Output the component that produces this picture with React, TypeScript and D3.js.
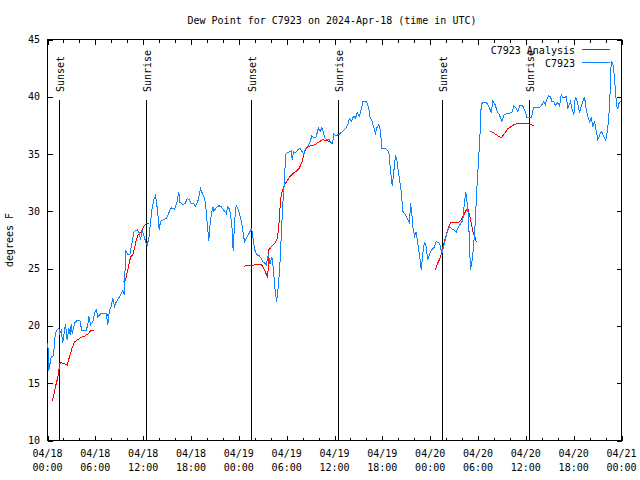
import React, { useEffect } from "react";
import * as d3 from "d3";

const W = 640;
const H = 480;

const titleText = "Dew Point for C7923 on 2024-Apr-18 (time in UTC)";
const yAxisLabel = "degrees F";
const yTickValues = [10, 15, 20, 25, 30, 35, 40, 45];
const xMajorHours = [0, 6, 12, 18, 24, 30, 36, 42, 48, 54, 60, 66, 72];
const xTickDates = ["04/18", "04/18", "04/18", "04/18", "04/19", "04/19", "04/19", "04/19", "04/20", "04/20", "04/20", "04/20", "04/21"];
const xTickTimes = ["00:00", "06:00", "12:00", "18:00", "00:00", "06:00", "12:00", "18:00", "00:00", "06:00", "12:00", "18:00", "00:00"];
const sunEventHours = [1.42, 12.33, 25.47, 36.42, 49.47, 60.38];
const sunEventLabels = ["Sunset", "Sunrise", "Sunset", "Sunrise", "Sunset", "Sunrise"];
const seriesNames = ["C7923 Analysis", "C7923"];

// Hours since 2024-04-18 00:00 UTC, dew point in °F
const blueHours = [
  0.04, 0.16, 0.46, 0.75, 0.97, 1.17, 1.42, 1.54, 1.72, 1.92, 2.04, 2.26, 2.47, 2.67, 2.85, 2.97, 3.1, 3.26, 3.47, 3.8,
  4.05, 4.3, 4.85, 5.06, 5.18, 5.39, 5.68, 5.9, 6.11, 6.31, 6.74, 7.36, 7.56, 7.78, 7.99, 8.19, 8.4, 8.62, 8.91, 9.25,
  9.45, 9.66, 9.78, 10.07, 10.32, 10.57, 10.83, 11.25, 11.54, 11.67, 11.88, 12.08, 12.38, 12.51, 12.71, 12.92, 13.13, 13.33, 13.55, 13.67,
  13.84, 14.01, 14.17, 14.46, 14.89, 15.18, 15.3, 15.52, 15.93, 16.22, 16.47, 16.6, 16.97, 17.27, 17.52, 17.81, 18.03, 18.35, 18.53, 18.85,
  19.19, 19.41, 19.61, 19.82, 20.03, 20.23, 20.36, 20.57, 20.74, 20.86, 21.16, 21.49, 21.79, 22.12, 22.42, 22.62, 22.83, 23.04, 23.17, 23.29,
  23.42, 23.55, 23.67, 23.87, 24.12, 24.37, 24.55, 24.71, 24.93, 25.13, 25.38, 25.55, 25.68, 25.84, 26.05, 26.31, 26.59, 26.81, 27.01, 27.22,
  27.43, 27.72, 27.89, 28.14, 28.35, 28.51, 28.73, 28.94, 29.14, 29.32, 29.52, 29.73, 29.86, 30.02, 30.36, 30.57, 30.7, 30.86, 31.11, 31.4,
  31.7, 31.95, 32.15, 32.36, 32.65, 32.95, 33.15, 33.4, 33.7, 33.99, 34.21, 34.41, 34.62, 34.78, 35.09, 35.37, 35.59, 35.79, 35.91, 36.21,
  36.63, 37.04, 37.47, 37.67, 37.88, 38.13, 38.38, 38.64, 38.85, 39.14, 39.35, 39.55, 40.05, 40.3, 40.48, 40.73, 40.93, 41.14, 41.31, 41.56,
  41.77, 41.93, 42.4, 42.81, 43.11, 43.24, 43.4, 43.65, 43.82, 44.07, 44.37, 44.57, 44.91, 45.2, 45.41, 45.53, 45.7, 45.82, 46.04, 46.25,
  46.45, 46.66, 46.88, 47.08, 47.29, 47.5, 47.7, 47.92, 48.13, 48.54, 48.76, 49.17, 49.3, 49.46, 49.68, 49.89, 50.14, 50.43, 50.64, 50.97,
  51.27, 51.6, 51.9, 52.1, 52.31, 52.47, 52.65, 52.81, 52.94, 53.06, 53.22, 53.44, 53.65, 53.85, 54.07, 54.28, 54.4, 54.61, 55.03, 55.24,
  55.45, 55.66, 55.86, 56.16, 56.42, 56.7, 56.99, 57.24, 57.54, 58.08, 58.29, 58.49, 58.79, 58.99, 59.21, 59.62, 59.92, 60.17, 60.46, 60.68,
  61.0, 61.72, 61.93, 62.26, 62.43, 62.63, 62.85, 63.1, 63.26, 63.51, 63.69, 63.94, 64.23, 64.44, 64.64, 65.07, 65.27, 65.61, 65.77, 66.02,
  66.2, 66.45, 66.74, 66.95, 67.15, 67.36, 67.58, 67.78, 67.99, 68.2, 68.4, 68.61, 68.83, 69.03, 69.28, 69.53, 69.78, 70.03, 70.28, 70.49,
  70.62, 70.71, 70.91, 71.04, 71.22, 71.38, 71.54, 71.72, 71.88,
];
const blueValues = [
  18.55, 16.1, 17.3, 17.4, 19.3, 19.6, 19.8, 19.3, 19.6, 18.5, 19.2, 20.15, 18.75, 19.8, 19.2, 20.15, 19.3, 19.8, 20.35, 20.5,
  20.5, 19.6, 19.6, 20.1, 20.9, 20.1, 20.35, 21.1, 21.4, 20.8, 21.1, 21.1, 20.1, 21.4, 21.7, 22.4, 21.7, 22.1, 22.4, 22.8,
  23.1, 22.7, 26.6, 26.2, 26.2, 27.1, 28.2, 28.4, 28.1, 27.5, 28.4, 27.9, 27.2, 27.1, 27.65, 29.0, 30.3, 31.0, 31.4, 30.85,
  29.8, 28.4, 29.1, 29.25, 29.4, 29.8, 30.0, 30.3, 30.2, 30.7, 31.7, 30.8, 30.6, 30.7, 31.1, 31.0, 30.7, 30.7, 30.4, 30.85,
  32.0, 31.6, 31.3, 30.7, 29.0, 27.4, 28.7, 29.8, 30.4, 30.0, 30.3, 30.5, 30.4, 30.1, 29.8, 30.4, 30.2, 29.25, 28.4, 26.5,
  28.4, 29.8, 30.5, 30.3, 29.7, 29.0, 28.1, 27.35, 27.65, 27.9, 28.2, 28.5, 28.2, 27.35, 26.5, 26.2, 26.1, 25.9, 25.6, 25.5,
  25.3, 26.3, 25.4, 26.0, 24.9, 23.4, 22.1, 23.4, 25.2, 27.8, 30.7, 32.75, 34.9, 35.1, 35.2, 35.3, 34.5, 35.2, 35.1, 35.4,
  35.5, 35.2, 35.0, 35.5, 35.7, 36.1, 36.6, 36.4, 36.5, 37.3, 37.0, 37.3, 36.9, 36.4, 36.25, 36.25, 35.9, 36.1, 36.75, 36.6,
  36.75, 37.0, 37.3, 37.6, 38.1, 37.85, 38.3, 38.15, 38.6, 38.3, 38.9, 39.55, 39.55, 39.0, 38.15, 37.85, 37.3, 36.8, 37.3, 37.6,
  37.0, 35.5, 35.5, 35.2, 33.0, 32.25, 33.2, 34.9, 34.5, 33.2, 31.7, 30.0, 29.7, 29.25, 29.0, 30.7, 29.8, 28.7, 27.8, 28.2,
  27.2, 26.2, 24.9, 26.3, 27.35, 26.9, 25.75, 26.3, 26.6, 26.9, 27.35, 27.2, 26.9, 26.3, 26.9, 27.5, 28.2, 28.7, 28.5, 28.4,
  28.2, 28.7, 29.0, 29.25, 30.85, 31.7, 30.7, 29.5, 26.9, 24.9, 25.5, 26.9, 29.0, 31.9, 34.5, 37.1, 39.3, 39.5, 39.5, 39.3,
  39.0, 38.6, 39.6, 39.3, 38.7, 38.4, 37.85, 38.4, 38.5, 38.6, 38.7, 39.2, 39.0, 38.7, 39.2, 39.2, 38.7, 38.15, 38.15, 38.15,
  39.1, 39.1, 39.2, 39.6, 39.3, 39.75, 40.1, 40.0, 39.6, 39.6, 39.2, 39.5, 39.2, 40.2, 39.9, 40.0, 39.0, 39.6, 39.0, 38.4,
  40.0, 39.6, 38.6, 39.2, 39.6, 40.0, 38.9, 38.3, 37.85, 38.15, 37.4, 37.85, 37.0, 36.25, 36.7, 37.0, 36.5, 36.2, 37.3, 39.0,
  41.35, 43.1, 42.95, 42.2, 40.8, 39.2, 39.0, 39.5, 39.6,
];

// null values mark gaps in the analysis series
const redHours = [
  0.54, 0.75, 1.0, 1.29, 1.42, 1.51, 1.72, 2.13, 2.47, 2.76, 3.05, 3.39, 3.8, 4.23, 4.64, 5.06, 5.48, 5.77,
  6.5,
  7.36, 7.62,
  8.5,
  9.5, 9.78, 10.0, 10.2, 10.41, 10.7, 10.91, 11.13, 11.33, 11.75, 12.17, 12.38, 12.71,
  18.0,
  24.62, 24.84, 25.34, 25.63, 26.18, 26.81, 27.22, 27.64, 27.72, 28.06, 28.48, 28.77, 28.98, 29.23, 29.39, 29.73, 30.36, 30.77, 31.2,
  31.61, 31.95, 32.24, 32.45, 32.87, 33.28, 33.7, 34.12, 34.54, 34.96, 35.37, 35.79,
  42.0,
  48.63, 48.96, 49.3, 49.59, 49.89, 50.21, 50.55, 51.05, 51.47, 51.9, 52.22, 52.52, 52.72, 52.94, 53.15, 53.36, 53.66, 53.79,
  54.6,
  55.57, 56.07, 56.49, 56.91, 57.33, 57.74, 58.17, 58.58, 59.21, 59.83, 60.34, 60.97,
];
const redValues = [
  13.4, 13.8, 14.7, 15.5, 16.0, 16.7, 16.8, 16.7, 16.6, 17.3, 18.0, 18.6, 18.8, 19.0, 19.1, 19.3, 19.6, 19.6,
  null,
  21.05, 20.9,
  null,
  23.85, 24.0, 24.7, 25.3, 26.0, 26.2, 26.8, 27.5, 27.9, 28.2, 28.8, 28.9, 28.9,
  null,
  25.1, 25.3, 25.25, 25.25, 25.4, 25.4, 24.9, 24.2, 26.6, 26.9, 27.2, 27.5, 28.4, 31.0, 31.6, 32.3, 33.0, 33.3, 33.5,
  33.8, 34.35, 35.2, 35.5, 35.7, 35.75, 35.9, 36.1, 36.25, 36.2, 36.1, 35.95,
  null,
  24.9, 25.5, 26.0, 26.8, 27.65, 28.4, 29.0, 29.0, 29.0, 29.25, 29.7, 30.1, 30.3, 29.7, 29.0, 28.2, 27.65, 27.35,
  null,
  37.0, 36.8, 36.6, 36.4, 36.8, 37.2, 37.4, 37.6, 37.7, 37.7, 37.65, 37.5,
];

const RED = "#ff0000";
const BLUE = "#1084ff";
const FONT = "'DejaVu Sans Mono', 'Liberation Mono', monospace";

export default function App() {
  useEffect(() => {
    document.body.style.margin = "0";
  }, []);

  const left = 47.5;
  const right = 621.5;
  const top = 39.5;
  const bottom = 440.5;

  const x = d3.scaleLinear().domain([0, 72]).range([left, right]);
  const y = d3.scaleLinear().domain([10, 45]).range([bottom, top]);

  const bluePts = blueHours.map((h, i) => [h, blueValues[i]] as [number, number]);
  const redPts = redHours.map((h, i) => [h, redValues[i]] as [number, number | null]);

  const blueLine = d3
    .line<[number, number]>()
    .x((d) => x(d[0]))
    .y((d) => y(d[1]));
  const redLine = d3
    .line<[number, number | null]>()
    .defined((d) => d[1] !== null)
    .x((d) => x(d[0]))
    .y((d) => y(d[1] as number));

  const minorHours = d3.range(0, 73, 2).filter((h) => h % 6 !== 0);

  return (
    <svg width={W} height={H} style={{ display: "block", background: "#fff" }} fontFamily={FONT} fontSize={10}>
      <rect x={0} y={0} width={W} height={H} fill="#fff" />
      {/* title */}
      <text x={332} y={24} textAnchor="middle" fill="#000">
        {titleText}
      </text>
      {/* y label */}
      <text transform={`translate(13,240) rotate(-90)`} textAnchor="middle" fill="#000">
        {yAxisLabel}
      </text>

      {/* sunrise / sunset markers */}
      {sunEventHours.map((h, i) => (
        <g key={"sun" + i}>
          <line
            x1={Math.round(x(h)) + 0.5}
            x2={Math.round(x(h)) + 0.5}
            y1={100}
            y2={bottom}
            stroke="#000"
            strokeWidth={1}
            shapeRendering="crispEdges"
          />
          <text transform={`translate(${Math.round(x(h)) + 4.5},92) rotate(-90)`} textAnchor="start" fill="#000">
            {sunEventLabels[i]}
          </text>
        </g>
      ))}

      {/* frame */}
      <rect
        x={left}
        y={top}
        width={right - left}
        height={bottom - top}
        fill="none"
        stroke="#000"
        strokeWidth={1}
        shapeRendering="crispEdges"
      />

      {/* y ticks */}
      {yTickValues.map((v) => (
        <g key={"y" + v}>
          <line x1={left} x2={left + 5} y1={Math.round(y(v)) + 0.5} y2={Math.round(y(v)) + 0.5} stroke="#000" shapeRendering="crispEdges" />
          <line x1={right - 5} x2={right} y1={Math.round(y(v)) + 0.5} y2={Math.round(y(v)) + 0.5} stroke="#000" shapeRendering="crispEdges" />
          <text x={40} y={y(v) + 3.5} textAnchor="end" fill="#000">
            {v}
          </text>
        </g>
      ))}

      {/* x ticks */}
      {xMajorHours.map((h, i) => (
        <g key={"x" + h}>
          <line x1={Math.round(x(h)) + 0.5} x2={Math.round(x(h)) + 0.5} y1={bottom} y2={bottom - 5} stroke="#000" shapeRendering="crispEdges" />
          <line x1={Math.round(x(h)) + 0.5} x2={Math.round(x(h)) + 0.5} y1={top} y2={top + 5} stroke="#000" shapeRendering="crispEdges" />
          <text x={x(h)} y={457} textAnchor="middle" fill="#000">
            {xTickDates[i]}
          </text>
          <text x={x(h)} y={471} textAnchor="middle" fill="#000">
            {xTickTimes[i]}
          </text>
        </g>
      ))}
      {minorHours.map((h) => (
        <g key={"m" + h}>
          <line x1={Math.round(x(h)) + 0.5} x2={Math.round(x(h)) + 0.5} y1={bottom} y2={bottom - 3} stroke="#000" shapeRendering="crispEdges" />
          <line x1={Math.round(x(h)) + 0.5} x2={Math.round(x(h)) + 0.5} y1={top} y2={top + 3} stroke="#000" shapeRendering="crispEdges" />
        </g>
      ))}

      {/* data */}
      <path d={redLine(redPts) || ""} fill="none" stroke={RED} strokeWidth={1} shapeRendering="crispEdges" />
      <path d={blueLine(bluePts) || ""} fill="none" stroke={BLUE} strokeWidth={1} shapeRendering="crispEdges" />

      {/* legend */}
      <text x={575} y={53.5} textAnchor="end" fill="#000">
        {seriesNames[0]}
      </text>
      <line x1={582} x2={610} y1={49.5} y2={49.5} stroke={RED} shapeRendering="crispEdges" />
      <text x={575} y={66.5} textAnchor="end" fill="#000">
        {seriesNames[1]}
      </text>
      <line x1={582} x2={610} y1={62.5} y2={62.5} stroke={BLUE} shapeRendering="crispEdges" />
    </svg>
  );
}
